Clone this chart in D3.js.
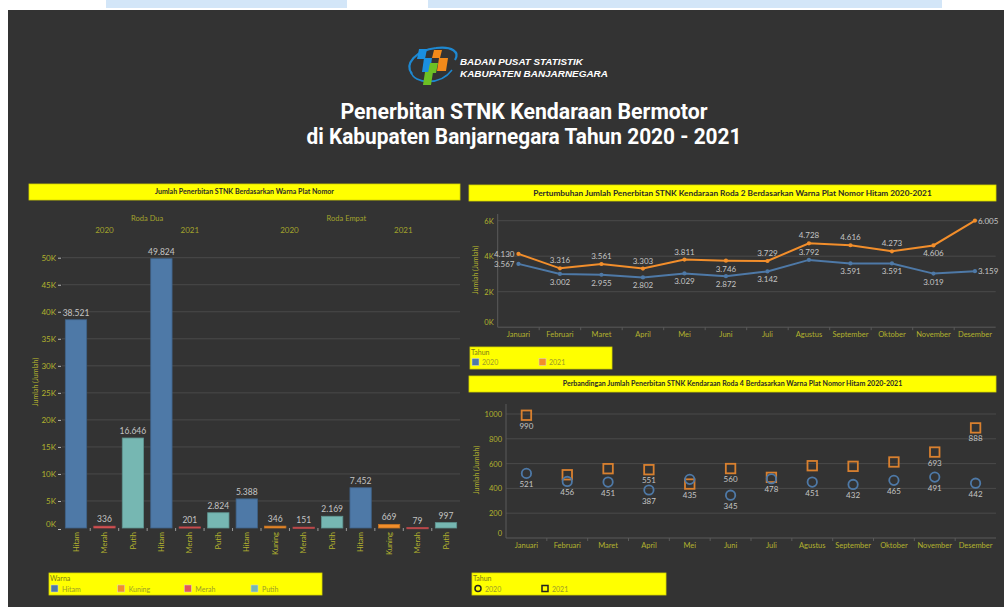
<!DOCTYPE html>
<html><head><meta charset="utf-8">
<script src="https://cdn.jsdelivr.net/npm/d3@7"></script>
<style>body{margin:0;background:#fff;} svg{display:block;}</style>
</head><body><svg id="c" width="1004" height="607"></svg>
<script>
// ---------------- DATA ----------------
const rodaLabels = ["Roda Dua", "Roda Empat"];
const barRoda  = ["Roda Dua","Roda Dua","Roda Dua","Roda Dua","Roda Dua","Roda Dua",
                  "Roda Empat","Roda Empat","Roda Empat","Roda Empat","Roda Empat","Roda Empat","Roda Empat","Roda Empat"];
const barTahun = ["2020","2020","2020","2021","2021","2021","2020","2020","2020","2020","2021","2021","2021","2021"];
const barWarna = ["Hitam","Merah","Putih","Hitam","Merah","Putih","Hitam","Kuning","Merah","Putih","Hitam","Kuning","Merah","Putih"];
const barValues = [38521,336,16646,49824,201,2824,5388,346,151,2169,7452,669,79,997];
const warnaLegend = ["Hitam","Kuning","Merah","Putih"];
const barTicks = [0,5000,10000,15000,20000,25000,30000,35000,40000,45000,50000];

const months = ["Januari","Februari","Maret","April","Mei","Juni","Juli","Agustus","September","Oktober","November","Desember"];
const roda2_2020 = [3567,3002,2955,2802,3029,2872,3142,3792,3591,3591,3019,3159];
const roda2_2021 = [4130,3316,3561,3303,3811,3746,3729,4728,4616,4273,4606,6005];
const lineTicks = [0,2000,4000,6000];
// label placement (layout hints, not data)
const roda2_2020_pos = ["left","below","below","below","below","below","below","above","below","below","below","right"];
const roda2_2021_pos = ["left","above","above","above","above","below","above","above","above","above","below","right"];

const roda4_2020 = [521,456,451,387,473,345,478,451,432,465,491,442];
const roda4_2021 = [990,510,559,551,435,560,489,583,578,613,693,888];
const roda4_2020_showLabel = [1,1,1,1,0,1,1,1,1,1,1,1];
const roda4_2021_showLabel = [1,0,0,1,1,1,0,0,0,0,1,1];
const scatterTicks = [0,200,400,600,800,1000];
const tahunLegend = ["2020","2021"];

// ---------------- STYLE ----------------
const warnaColor = {Hitam:"#4e79a7", Kuning:"#f28e2b", Merah:"#e15759", Putih:"#76b7b2"};
const C2020 = "#4e79a7", C2021 = "#f28e2b", C2021sq = "#d9802f";
const OLIVE = "#b2b22e", LABEL = "#c4c4c4", GRID = "#4a4a4a", AXIS = "#5a5a5a";
const FONT = "Lato, 'Open Sans', sans-serif";
const fmt = d3.formatLocale({decimal:",", thousands:".", grouping:[3], currency:["Rp",""]}).format(",d");
const kfmt = d => (d/1000) + "K";

const svg = d3.select("#c").style("font-family", FONT);

function fitText(sel, target) {
  const n = sel.node();
  const w = n.getComputedTextLength();
  const fs = parseFloat(sel.attr("font-size"));
  if (w > 0) sel.attr("font-size", (fs * target / w).toFixed(2));
}

// page background
svg.append("rect").attr("x",0).attr("y",0).attr("width",1004).attr("height",607).attr("fill","#fff");
svg.append("rect").attr("x",106).attr("y",0).attr("width",836).attr("height",8).attr("fill","#d3e6f8");
svg.append("rect").attr("x",347).attr("y",0).attr("width",81).attr("height",8).attr("fill","#fff");
svg.append("rect").attr("x",8).attr("y",10).attr("width",996).attr("height",597).attr("fill","#333333");

// ---------------- LOGO ----------------
const logo = svg.append("g");
logo.append("path").attr("d","M412,74 C404,64 416,50 436,48 C452,46 460,52 455,60")
  .attr("fill","none").attr("stroke","#1e88d0").attr("stroke-width",2.2);
logo.append("path").attr("d","M411,72 C414,84 440,86 452,70").attr("fill","none").attr("stroke","#1e88d0").attr("stroke-width",1.5);
const para = (x,y,w,h,c) => logo.append("path")
  .attr("d",`M${x+2},${y} L${x+w+2},${y} L${x+w},${y+h} L${x},${y+h} Z`).attr("fill",c);
para(417,49,8,10,"#1a8fe0");
para(422,58,8,14,"#1a8fe0");
para(432,50,8,8,"#f28a1a");
para(437,58,9,13,"#f28a1a");
para(428,63,8,10,"#6cc024");
para(423,72,8,13,"#6cc024");
svg.append("text").attr("x",460).attr("y",65).attr("font-family","'Liberation Sans', Arial, sans-serif")
  .attr("font-weight","bold").attr("font-style","italic").attr("font-size",10.5).attr("fill","#fff")
  .text("BADAN PUSAT STATISTIK").call(fitText,123);
svg.append("text").attr("x",460).attr("y",77).attr("font-family","'Liberation Sans', Arial, sans-serif")
  .attr("font-weight","bold").attr("font-style","italic").attr("font-size",10.5).attr("fill","#fff")
  .text("KABUPATEN BANJARNEGARA").call(fitText,148);

// ---------------- MAIN TITLE ----------------
const titleFont = "Roboto, 'Open Sans', sans-serif";
svg.append("text").attr("x",524).attr("y",119).attr("text-anchor","middle").attr("font-family",titleFont)
  .attr("font-weight","bold").attr("font-size",21.5).attr("fill","#fff")
  .attr("textLength",367).attr("lengthAdjust","spacingAndGlyphs")
  .text("Penerbitan STNK Kendaraan Bermotor");
svg.append("text").attr("x",524).attr("y",144).attr("text-anchor","middle").attr("font-family",titleFont)
  .attr("font-weight","bold").attr("font-size",21.5).attr("fill","#fff")
  .attr("textLength",435).attr("lengthAdjust","spacingAndGlyphs")
  .text("di Kabupaten Banjarnegara Tahun 2020 - 2021");

// panel title bars
function titleBar(x,y,w,h,text,tw) {
  svg.append("rect").attr("x",x).attr("y",y).attr("width",w).attr("height",h)
    .attr("fill","#ffff00").attr("stroke","#d4d400").attr("stroke-width",0.8);
  svg.append("text").attr("x",x+w/2).attr("y",y+h/2).attr("dy","0.35em").attr("text-anchor","middle")
    .attr("font-weight","bold").attr("font-size",7).attr("fill","#2a2a2a").text(text).call(fitText,tw);
}
titleBar(29,184,431,16,"Jumlah Penerbitan STNK Berdasarkan Warna Plat Nomor",179);
titleBar(469,185,527,16,"Pertumbuhan Jumlah Penerbitan STNK Kendaraan Roda 2 Berdasarkan Warna Plat Nomor Hitam 2020-2021",399);
titleBar(469,376,527,16,"Perbandingan Jumlah Penerbitan STNK Kendaraan Roda 4 Berdasarkan Warna Plat Nomor Hitam 2020-2021",340);

// ---------------- LEFT BAR CHART ----------------
{
  const g = svg.append("g");
  const idx = d3.range(barValues.length);
  const x = d3.scaleBand().domain(idx).range([62,460]).paddingInner(0.25).paddingOuter(0.117);
  const y = d3.scaleLinear().domain([0,50000]).range([528,257.7]);
  const step = x.step(), bw = x.bandwidth();

  g.selectAll(".grid").data(barTicks.filter(t=>t>0)).join("line")
    .attr("x1",62).attr("x2",460).attr("y1",d=>y(d)).attr("y2",d=>y(d))
    .attr("stroke",GRID).attr("stroke-width",1);
  const ya = d3.axisLeft(y).tickValues(barTicks).tickFormat(kfmt).tickSize(3).tickPadding(2);
  const yg = g.append("g").attr("transform","translate(61,0)").call(ya);
  yg.select(".domain").remove();
  yg.selectAll(".tick line").attr("stroke","#bbb");
  yg.selectAll(".tick text").attr("fill",OLIVE).attr("font-size",8).attr("font-family",FONT);
  yg.selectAll(".tick").filter(d=>d===0).select("text").attr("dy","-0.2em");
  yg.selectAll(".tick").filter(d=>d===0).select("line").attr("transform","translate(0,1)");
  g.append("text").attr("transform","translate(38,382) rotate(-90)").attr("text-anchor","middle")
    .attr("fill",OLIVE).attr("font-size",7).text("Jumlah (Jumlah)");

  rodaLabels.forEach(r => {
    const ids = idx.filter(i=>barRoda[i]===r);
    const x0 = x(ids[0]) - (step-bw)/2, x1 = x(ids[ids.length-1]) + bw + (step-bw)/2;
    g.append("text").attr("x",(x0+x1)/2).attr("y",221).attr("text-anchor","middle")
      .attr("fill","#a3a32c").attr("font-size",7.5).text(r);
    ["2020","2021"].forEach(t => {
      const ii = ids.filter(i=>barTahun[i]===t);
      const a = x(ii[0]) - (step-bw)/2, b = x(ii[ii.length-1]) + bw + (step-bw)/2;
      g.append("text").attr("x",(a+b)/2).attr("y",233).attr("text-anchor","middle")
        .attr("fill","#a3a32c").attr("font-size",8).text(t);
    });
  });

  g.selectAll(".bar").data(idx).join("rect")
    .attr("x",i=>x(i)).attr("width",bw)
    .attr("y",i=>y(barValues[i])).attr("height",i=>Math.max(1.2, y(0)-y(barValues[i])))
    .attr("fill",i=>warnaColor[barWarna[i]])
    .attr("stroke",i=>d3.color(warnaColor[barWarna[i]]).darker(0.6)).attr("stroke-width",0.8);
  g.selectAll(".vl").data(idx).join("text")
    .attr("x",i=>x(i)+bw/2).attr("y",i=>y(barValues[i])-4).attr("text-anchor","middle")
    .attr("fill",LABEL).attr("font-size",8.5).text(i=>fmt(barValues[i]));
  g.selectAll(".xl").data(idx).join("text")
    .attr("transform",i=>`translate(${x(i)+bw/2},532) rotate(-90)`)
    .attr("text-anchor","end").attr("dy","0.35em")
    .attr("fill",OLIVE).attr("font-size",7.5).text(i=>barWarna[i]);
  g.selectAll(".sep").data(idx.slice(0,-1)).join("line")
    .attr("x1",i=>x(i)+bw+(step-bw)/2).attr("x2",i=>x(i)+bw+(step-bw)/2)
    .attr("y1",528).attr("y2",531).attr("stroke","#999").attr("stroke-width",1);

  svg.append("rect").attr("x",49).attr("y",573).attr("width",273).attr("height",22)
    .attr("fill","#ffff00").attr("stroke","#d4d400").attr("stroke-width",0.8);
  svg.append("text").attr("x",50).attr("y",581).attr("font-size",7).attr("fill","#7a7a18").text("Warna");
  const lx = d3.scalePoint().domain(warnaLegend).range([51,251]);
  warnaLegend.forEach(w => {
    svg.append("rect").attr("x",lx(w)).attr("y",585).attr("width",7).attr("height",7)
      .attr("fill",warnaColor[w]).attr("stroke","#d8d8d8").attr("stroke-width",0.5);
    svg.append("text").attr("x",lx(w)+11).attr("y",591.5).attr("font-size",7).attr("fill","#9a9a2a").text(w);
  });
}

// ---------------- RIGHT TOP LINE CHART ----------------
{
  const g = svg.append("g");
  const x = d3.scaleBand().domain(months).range([497.7,995.7]);
  const y = d3.scaleLinear().domain([0,6000]).range([327.2,220.7]);
  const cx = m => x(m) + x.bandwidth()/2;
  g.selectAll(".grid").data(lineTicks.filter(t=>t>0)).join("line")
    .attr("x1",497.7).attr("x2",995.7).attr("y1",d=>y(d)).attr("y2",d=>y(d)).attr("stroke",GRID);
  g.append("line").attr("x1",497.7).attr("x2",995.7).attr("y1",y(0)).attr("y2",y(0)).attr("stroke",AXIS);
  g.append("line").attr("x1",497.7).attr("x2",497.7).attr("y1",214).attr("y2",y(0)).attr("stroke",AXIS);
  const ya = d3.axisLeft(y).tickValues(lineTicks).tickFormat(kfmt).tickSize(0).tickPadding(4);
  const yg = g.append("g").attr("transform","translate(497.7,0)").call(ya);
  yg.select(".domain").remove();
  yg.selectAll(".tick text").attr("fill",OLIVE).attr("font-size",7.5).attr("font-family",FONT);
  yg.selectAll(".tick").filter(d=>d===0).select("text").attr("dy","-0.3em");
  g.append("text").attr("transform","translate(478,270) rotate(-90)").attr("text-anchor","middle")
    .attr("fill",OLIVE).attr("font-size",7).text("Jumlah (Jumlah)");
  g.selectAll(".xl").data(months).join("text").attr("x",cx).attr("y",334).attr("dy","0.35em")
    .attr("text-anchor","middle").attr("fill",OLIVE).attr("font-size",7.5).text(d=>d);
  g.selectAll(".xt").data(months.slice(1)).join("line").attr("x1",d=>x(d)).attr("x2",d=>x(d))
    .attr("y1",y(0)).attr("y2",y(0)+3).attr("stroke",AXIS);

  const series = [
    {vals:roda2_2020, pos:roda2_2020_pos, color:C2020},
    {vals:roda2_2021, pos:roda2_2021_pos, color:C2021}
  ];
  const line = d3.line().x((d,i)=>cx(months[i])).y(d=>y(d));
  series.forEach(s => {
    g.append("path").datum(s.vals).attr("d",line).attr("fill","none")
      .attr("stroke",s.color).attr("stroke-width",2);
    g.selectAll(null).data(s.vals).join("circle").attr("cx",(d,i)=>cx(months[i])).attr("cy",d=>y(d))
      .attr("r",2.1).attr("fill",s.color);
  });
  series.forEach(s => {
    g.selectAll(null).data(s.vals).join("text")
      .attr("x",(d,i)=> s.pos[i]==="left" ? cx(months[i])-4 : s.pos[i]==="right" ? cx(months[i])+3 : cx(months[i]))
      .attr("y",(d,i)=> s.pos[i]==="above" ? y(d)-5 : s.pos[i]==="below" ? y(d)+11 : y(d)+3)
      .attr("text-anchor",(d,i)=> s.pos[i]==="left" ? "end" : s.pos[i]==="right" ? "start" : "middle")
      .attr("fill",LABEL).attr("font-size",8).text(d=>fmt(d));
  });
  svg.append("rect").attr("x",470).attr("y",347).attr("width",142).attr("height",22)
    .attr("fill","#ffff00").attr("stroke","#d4d400").attr("stroke-width",0.8);
  svg.append("text").attr("x",471).attr("y",355).attr("font-size",7).attr("fill","#7a7a18").text("Tahun");
  const lx = d3.scalePoint().domain(tahunLegend).range([472,539]);
  tahunLegend.forEach((t,i) => {
    svg.append("rect").attr("x",lx(t)).attr("y",358.5).attr("width",7).attr("height",7)
      .attr("fill",[C2020,C2021][i]).attr("stroke","#d8d8d8").attr("stroke-width",0.5);
    svg.append("text").attr("x",lx(t)+10).attr("y",365).attr("font-size",7).attr("fill","#9a9a2a").text(t);
  });
}

// ---------------- RIGHT BOTTOM SCATTER ----------------
{
  const g = svg.append("g");
  const x = d3.scaleBand().domain(months).range([506,996]);
  const y = d3.scaleLinear().domain([0,1000]).range([538,414]);
  const cx = m => x(m) + x.bandwidth()/2;
  g.selectAll(".grid").data(scatterTicks.filter(t=>t>0)).join("line")
    .attr("x1",506).attr("x2",996).attr("y1",d=>y(d)).attr("y2",d=>y(d)).attr("stroke",GRID);
  g.append("line").attr("x1",506).attr("x2",996).attr("y1",y(0)).attr("y2",y(0)).attr("stroke",AXIS);
  g.append("line").attr("x1",506).attr("x2",506).attr("y1",404).attr("y2",y(0)).attr("stroke",AXIS);
  const ya = d3.axisLeft(y).tickValues(scatterTicks).tickFormat(d3.format("d")).tickSize(0).tickPadding(4);
  const yg = g.append("g").attr("transform","translate(506,0)").call(ya);
  yg.select(".domain").remove();
  yg.selectAll(".tick text").attr("fill",OLIVE).attr("font-size",7.5).attr("font-family",FONT);
  yg.selectAll(".tick").filter(d=>d===0).select("text").attr("dy","-0.3em");
  g.append("text").attr("transform","translate(479,470) rotate(-90)").attr("text-anchor","middle")
    .attr("fill",OLIVE).attr("font-size",7).text("Jumlah (Jumlah)");
  g.selectAll(".xl").data(months).join("text").attr("x",cx).attr("y",545).attr("dy","0.35em")
    .attr("text-anchor","middle").attr("fill",OLIVE).attr("font-size",7.5).text(d=>d);
  g.selectAll(".xt").data(months.slice(1)).join("line").attr("x1",d=>x(d)).attr("x2",d=>x(d))
    .attr("y1",y(0)).attr("y2",y(0)+3).attr("stroke",AXIS);

  const s = 9.5;
  g.selectAll(".sq").data(roda4_2021).join("rect")
    .attr("x",(d,i)=>cx(months[i])-s/2).attr("y",d=>y(d)-s/2).attr("width",s).attr("height",s)
    .attr("fill","none").attr("stroke",C2021sq).attr("stroke-width",1.8);
  g.selectAll(".ci").data(roda4_2020).join("circle")
    .attr("cx",(d,i)=>cx(months[i])).attr("cy",d=>y(d)).attr("r",4.7)
    .attr("fill","none").attr("stroke",C2020).attr("stroke-width",1.8);
  [[roda4_2020,roda4_2020_showLabel],[roda4_2021,roda4_2021_showLabel]].forEach(([vals,show]) => {
    const pts = vals.map((v,i)=>({v, m:months[i], show:show[i]})).filter(p=>p.show);
    g.selectAll(null).data(pts).join("text")
      .attr("x",p=>cx(p.m)).attr("y",p=>y(p.v)+13.5).attr("text-anchor","middle")
      .attr("fill",LABEL).attr("font-size",8).text(p=>fmt(p.v));
  });
  svg.append("rect").attr("x",472).attr("y",573).attr("width",194).attr("height",22)
    .attr("fill","#ffff00").attr("stroke","#d4d400").attr("stroke-width",0.8);
  svg.append("text").attr("x",473).attr("y",581).attr("font-size",7).attr("fill","#7a7a18").text("Tahun");
  const lx = d3.scalePoint().domain(tahunLegend).range([478,545]);
  svg.append("circle").attr("cx",lx("2020")).attr("cy",588.5).attr("r",3).attr("fill","none")
    .attr("stroke","#222").attr("stroke-width",1.5);
  svg.append("rect").attr("x",lx("2021")-3).attr("y",585.5).attr("width",6).attr("height",6).attr("fill","none")
    .attr("stroke","#222").attr("stroke-width",1.5);
  tahunLegend.forEach(t => {
    svg.append("text").attr("x",lx(t)+7).attr("y",591.5).attr("font-size",7).attr("fill","#9a9a2a").text(t);
  });
}
</script></body></html>
